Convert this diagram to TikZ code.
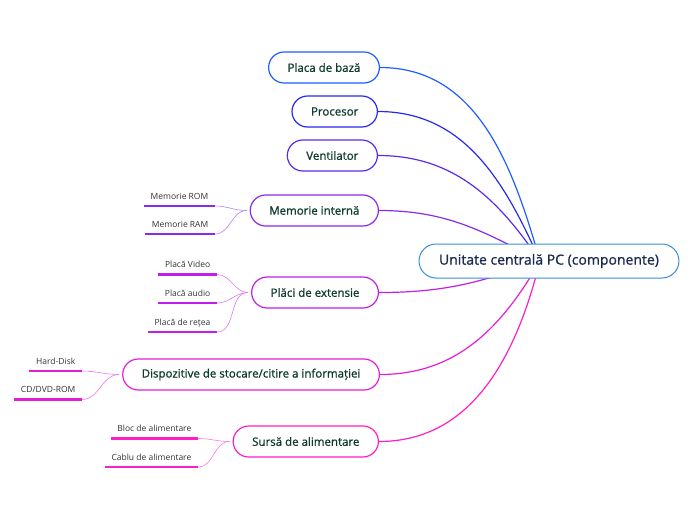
\documentclass[tikz,border=0pt]{standalone}
\usepackage{fontspec}
\setmainfont{Open Sans}
\newfontfamily\topicfont[FakeBold=0.9]{Open Sans}
\usepackage{xcolor}
\usepackage{tikz}

\definecolor{rootblue}{HTML}{3A8FD6}
\definecolor{rootink}{HTML}{1C2B50}
\definecolor{topicink}{HTML}{0E3B2C}
\definecolor{leafink}{HTML}{333333}
\definecolor{cBase}{HTML}{1E5EFF}
\definecolor{cCpu}{HTML}{2828EE}
\definecolor{cFan}{HTML}{5A2AF0}
\definecolor{cMem}{HTML}{8A2AEA}
\definecolor{cExt}{HTML}{C21EEA}
\definecolor{cDisk}{HTML}{E21ED8}
\definecolor{cPsu}{HTML}{FF1EC4}

\begin{document}
\begin{tikzpicture}[x=1pt, y=-1pt,
    root/.style={draw=rootblue, line width=1pt, fill=white,
        rounded corners=17pt, minimum height=34pt, inner xsep=20pt,
        font=\topicfont\fontsize{14}{16}\selectfont, text=rootink},
    topic/.style={draw=#1, line width=1.2pt, fill=white,
        rounded corners=15.5pt, minimum height=31pt, inner xsep=19pt,
        font=\topicfont\fontsize{11.5}{13}\selectfont, text=topicink, anchor=east},
    leaf/.style={inner xsep=6.5pt, inner ysep=0pt, text depth=6.5pt,
        font=\fontsize{8.5}{10}\selectfont, text=leafink, anchor=south east},
    branch/.style={draw=#1, line width=1.2pt},
    twig/.style={draw=#1!60, line width=0.6pt},
    bar/.style={draw=#1, line width=2.4pt}
]

    \useasboundingbox (0,0) rectangle (696,520);

    % Main topics
    \node[topic=cBase] (base) at (380,67.5) {Placa de bază};
    \node[topic=cCpu]  (cpu)  at (378,111.5) {Procesor};
    \node[topic=cFan]  (fan)  at (378,155.5) {Ventilator};
    \node[topic=cMem]  (mem)  at (379,210.5) {Memorie internă};
    \node[topic=cExt]  (ext)  at (379,292.5) {Plăci de extensie};
    \node[topic=cDisk] (disk) at (380,374.5) {Dispozitive de stocare/citire a informației};
    \node[topic=cPsu]  (psu)  at (379,441.5) {Sursă de alimentare};

    % Sub topics
    \node[leaf] (rom)   at (215,206)   {Memorie ROM};
    \node[leaf] (ram)   at (215,234)   {Memorie RAM};
    \node[leaf] (video) at (217,274.5) {Placă Video};
    \node[leaf] (audio) at (217,303)   {Placă audio};
    \node[leaf] (lan)   at (217,332)   {Placă de rețea};
    \node[leaf] (hdd)   at (82,371)    {Hard-Disk};
    \node[leaf] (cd)    at (82,399.5)  {CD/DVD-ROM};
    \node[leaf] (bloc)  at (198,438.5) {Bloc de alimentare};
    \node[leaf] (cablu) at (198,467)   {Cablu de alimentare};

    % Underlines
    \foreach \n/\c in {rom/cMem, ram/cMem, video/cExt, audio/cExt, lan/cExt,
                       hdd/cDisk, cd/cDisk, bloc/cPsu, cablu/cPsu}
        \draw[bar=\c] (\n.south west) -- (\n.south east);

    % Twigs to the topics
    \foreach \n/\t/\c in {rom/mem/cMem, ram/mem/cMem, video/ext/cExt,
                          audio/ext/cExt, lan/ext/cExt, hdd/disk/cDisk,
                          cd/disk/cDisk, bloc/psu/cPsu, cablu/psu/cPsu}
        \draw[twig=\c] (\n.south east) to[out=0, in=180] ([xshift=-3pt]\t.west);

    % Branches to the centre
    \coordinate (hub) at (540,261);
    \draw[branch=cBase] (base.east) to[out=0, in=106] (hub);
    \draw[branch=cCpu]  (cpu.east)  to[out=0, in=114] (hub);
    \draw[branch=cFan]  (fan.east)  to[out=0, in=124] (hub);
    \draw[branch=cMem]  (mem.east)  to[out=0, in=152] (hub);
    \draw[branch=cExt]  (ext.east)  to[out=0, in=200] (hub);
    \draw[branch=cDisk] (disk.east) to[out=0, in=240] (hub);
    \draw[branch=cPsu]  (psu.east)  to[out=0, in=256] (hub);

    % Central topic
    \node[root] (pc) at (549,261) {Unitate centrală PC (componente)};

\end{tikzpicture}
\end{document}
